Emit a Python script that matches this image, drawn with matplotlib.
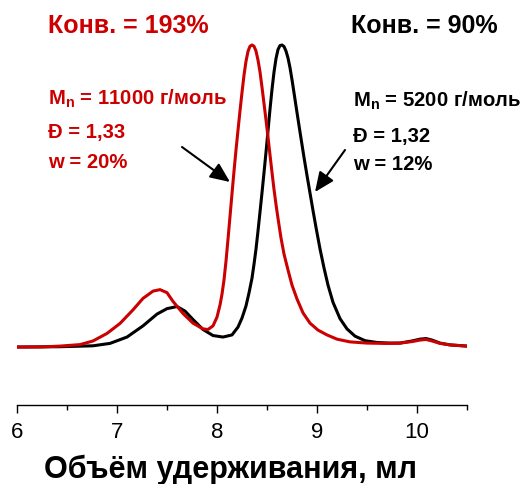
import matplotlib
matplotlib.use('Agg')
import matplotlib.pyplot as plt
from matplotlib.ticker import MultipleLocator

# объём удерживания (мл) и нормированная интенсивность
x_red = [6.00, 6.23, 6.43, 6.63, 6.76, 6.90, 7.03, 7.16, 7.26, 7.36,
         7.43, 7.50, 7.56, 7.66, 7.76, 7.86, 7.91, 7.96, 8.00, 8.03,
         8.05, 8.07, 8.09, 8.11, 8.13, 8.15, 8.17, 8.19, 8.21, 8.23,
         8.25, 8.27, 8.29, 8.31, 8.33, 8.35, 8.37, 8.39, 8.41, 8.43,
         8.45, 8.47, 8.49, 8.51, 8.53, 8.55, 8.57, 8.59, 8.61, 8.64,
         8.67, 8.71, 8.75, 8.80, 8.86, 8.93, 9.01, 9.10, 9.20, 9.33,
         9.50, 9.68, 9.83, 9.95, 10.03, 10.09, 10.15, 10.23, 10.33, 10.50]
y_red = [0.000, 0.000, 0.003, 0.008, 0.020, 0.045, 0.078, 0.123, 0.161, 0.185,
         0.190, 0.180, 0.151, 0.111, 0.079, 0.060, 0.058, 0.070, 0.099, 0.139,
         0.175, 0.222, 0.284, 0.357, 0.432, 0.508, 0.582, 0.652, 0.718, 0.782,
         0.843, 0.900, 0.946, 0.979, 0.996, 1.000, 0.996, 0.980, 0.950, 0.911,
         0.860, 0.806, 0.752, 0.695, 0.636, 0.578, 0.522, 0.472, 0.426, 0.361,
         0.308, 0.255, 0.205, 0.159, 0.113, 0.079, 0.056, 0.040, 0.026, 0.017,
         0.013, 0.012, 0.013, 0.018, 0.023, 0.025, 0.020, 0.012, 0.007, 0.003]

x_black = [6.00, 6.43, 6.76, 6.93, 7.10, 7.26, 7.40, 7.50, 7.60, 7.68,
           7.76, 7.86, 7.96, 8.06, 8.15, 8.21, 8.25, 8.29, 8.32, 8.35,
           8.37, 8.39, 8.41, 8.43, 8.45, 8.47, 8.49, 8.51, 8.53, 8.55,
           8.57, 8.59, 8.61, 8.63, 8.65, 8.67, 8.69, 8.71, 8.73, 8.75,
           8.77, 8.79, 8.81, 8.83, 8.85, 8.87, 8.90, 8.93, 8.96, 8.99,
           9.03, 9.07, 9.11, 9.16, 9.23, 9.30, 9.38, 9.48, 9.60, 9.73,
           9.83, 9.95, 10.03, 10.09, 10.15, 10.23, 10.33, 10.50]
y_black = [0.000, 0.001, 0.004, 0.012, 0.033, 0.070, 0.109, 0.127, 0.134, 0.119,
           0.091, 0.058, 0.038, 0.033, 0.040, 0.066, 0.096, 0.136, 0.179, 0.228,
           0.274, 0.324, 0.384, 0.447, 0.511, 0.577, 0.645, 0.716, 0.787, 0.853,
           0.910, 0.955, 0.985, 0.998, 1.000, 0.995, 0.980, 0.957, 0.925, 0.885,
           0.842, 0.798, 0.755, 0.712, 0.670, 0.628, 0.568, 0.510, 0.452, 0.396,
           0.325, 0.262, 0.205, 0.148, 0.094, 0.060, 0.036, 0.021, 0.015, 0.013,
           0.013, 0.020, 0.026, 0.028, 0.023, 0.013, 0.007, 0.003]

x_ticks = [6, 7, 8, 9, 10]

red_conv = 'Конв. = 193%'
black_conv = 'Конв. = 90%'
red_info = ['M$_\\mathbf{n}$ = 11000 г/моль', 'Đ = 1,33', 'w = 20%']
black_info = ['M$_\\mathbf{n}$ = 5200 г/моль', 'Đ = 1,32', 'w = 12%']

RED = '#cc0000'
W, H = 523, 484

plt.rcParams['font.family'] = ['Liberation Sans', 'DejaVu Sans']
plt.rcParams['mathtext.fontset'] = 'custom'
plt.rcParams['mathtext.bf'] = 'Liberation Sans:bold'
plt.rcParams['mathtext.rm'] = 'Liberation Sans:bold'

fig = plt.figure(figsize=(W / 100, H / 100), dpi=100)
ax = fig.add_axes([17 / W, 79 / H, 450 / W, 1 - 79 / H])

ax.plot(x_black, y_black, color='black', lw=2.2, solid_joinstyle='round')
ax.plot(x_red, y_red, color=RED, lw=2.2, solid_joinstyle='round')

ax.set_xlim(6, 10.5)
ax.set_ylim(-0.192, 1.149)
for s in ['left', 'right', 'top']:
    ax.spines[s].set_visible(False)
ax.spines['bottom'].set_linewidth(1.0)
ax.set_yticks([])
ax.set_xticks(x_ticks)
ax.xaxis.set_minor_locator(MultipleLocator(0.5))
ax.tick_params(axis='x', which='major', length=6, width=1.0, labelsize=16, pad=6)
ax.tick_params(axis='x', which='minor', length=3.5, width=1.0)

fig.text(230 / W, 1 - 478 / H, 'Объём удерживания, мл', fontsize=22, fontweight='bold',
         ha='center', va='baseline')


def ftext(px, py, s, color, size):
    fig.text(px / W, 1 - py / H, s, color=color, fontsize=size, fontweight='bold',
             ha='left', va='baseline')


ftext(48, 33, red_conv, RED, 18)
ftext(351, 33, black_conv, 'black', 18)
for s, yy in zip(red_info, [105, 138, 168]):
    ftext(48, yy, s, RED, 14.6)
for s, yy in zip(black_info, [107, 142, 170]):
    ftext(353, yy, s, 'black', 14.6)

arr = dict(arrowstyle='-|>,head_length=0.8,head_width=0.35', color='black', lw=1.5,
           mutation_scale=15, shrinkA=0, shrinkB=0)
ax.annotate('', xy=(230, H - 182), xytext=(182, H - 147), xycoords='figure pixels',
            textcoords='figure pixels', arrowprops=arr)
ax.annotate('', xy=(315, H - 192), xytext=(345, H - 150), xycoords='figure pixels',
            textcoords='figure pixels', arrowprops=arr)

fig.savefig('out.png', dpi=100)
